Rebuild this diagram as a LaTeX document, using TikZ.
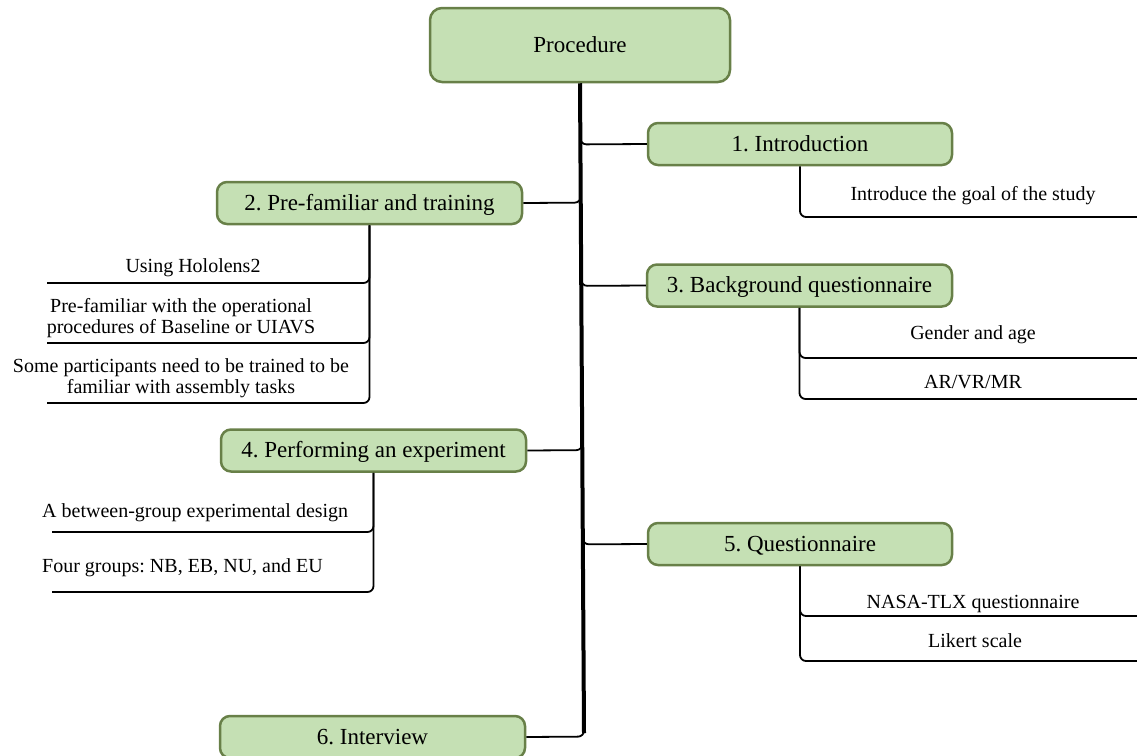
\documentclass[tikz,border=0pt]{standalone}
\usepackage{fontspec}
\setmainfont{Liberation Serif}
\usetikzlibrary{calc}
\definecolor{boxfill}{RGB}{197,224,180}
\definecolor{boxline}{RGB}{104,128,72}
\frenchspacing
\begin{document}
\begin{tikzpicture}[x=1pt,y=-1pt,
  box/.style={draw=boxline, fill=boxfill, line width=2.5pt, rounded corners=10pt,
    minimum width=304pt, minimum height=42pt, inner sep=0pt,
    font=\fontsize{23}{27}\selectfont, text height=17pt, text depth=3pt},
  conn/.style={line width=1.8pt, rounded corners=6pt},
  trunk/.style={line width=4pt},
  sub/.style={font=\fontsize{20}{21}\selectfont, inner sep=0pt}]
\useasboundingbox (0,0) rectangle (1137,755);

% main boxes
\node[box, minimum width=300pt, minimum height=74pt, rounded corners=12pt] (proc) at (580,45) {Procedure};
\node[box] (b1) at (800,144) {1. Introduction};
\node[box, minimum width=305pt] (b2) at (369.5,203) {2. Pre-familiar and training};
\node[box, minimum width=305pt] (b3) at (799.5,285.5) {3. Background questionnaire};
\node[box, minimum width=305pt] (b4) at (373.5,450.5) {4. Performing an experiment};
\node[box] (b5) at (800,544) {5. Questionnaire};
\node[box, minimum width=305pt] (b6) at (372.5,737) {6. Interview};

% trunk coordinates
\coordinate (ttop) at (proc.south);
\coordinate (tbot) at (584,733);

% junctions on trunk
\coordinate (j1) at ($(ttop)!(b1.west)!(tbot)$);
\coordinate (j2) at ($(ttop)!(b2.east)!(tbot)$);
\coordinate (j3) at ($(ttop)!(b3.west)!(tbot)$);
\coordinate (j4) at ($(ttop)!(b4.east)!(tbot)$);
\coordinate (j5) at ($(ttop)!(b5.west)!(tbot)$);
\coordinate (j6) at ($(ttop)!(b6.east)!(tbot)$);

% connectors from trunk to boxes
\draw[conn] ($(j1)+(0,-14)$) -- (j1) -- (b1.west);
\draw[conn] ($(j3)+(0,-14)$) -- (j3) -- (b3.west);
\draw[conn] ($(j5)+(0,-14)$) -- (j5) -- (b5.west);
\draw[conn] (b2.east) -- (j2) -- ($(j2)+(0,-14)$);
\draw[conn] (b4.east) -- (j4) -- ($(j4)+(0,-14)$);
\draw[conn] (b6.east) -- (j6) -- ($(j6)+(0,-14)$);

% trunk
\draw[trunk] (ttop) -- (tbot);

% sub-branch ends
\coordinate (e1) at (1137,217);
\coordinate (e3a) at (1137,358);
\coordinate (e3b) at (1137,399);
\coordinate (e5a) at (1137,616);
\coordinate (e5b) at (1137,661);
\coordinate (e2a) at (47,283);
\coordinate (e2b) at (47,343);
\coordinate (e2c) at (47,403);
\coordinate (e4a) at (52,532);
\coordinate (e4b) at (52,592);

\draw[conn] (b1.south) |- (e1);
\draw[conn] (b3.south) |- (e3a);
\draw[conn] (b3.south) |- (e3b);
\draw[conn] (b5.south) |- (e5a);
\draw[conn] (b5.south) |- (e5b);
\draw[conn] (b2.south) |- (e2a);
\draw[conn] (b2.south) |- (e2b);
\draw[conn] (b2.south) |- (e2c);
\draw[conn] (b4.south) |- (e4a);
\draw[conn] (b4.south) |- (e4b);

% sub texts
\node[sub, anchor=base] (s1) at (973,200) {Introduce the goal of the study};
\node[sub, anchor=base] (s3a) at (973,339) {Gender and age};
\node[sub, anchor=base] (s3b) at (973,388) {AR/VR/MR};
\node[sub, anchor=base] (s5a) at (973,608) {NASA-TLX questionnaire};
\node[sub, anchor=base] (s5b) at (975,647) {Likert scale};
\node[sub, anchor=base] (s2a) at (193,272) {Using Hololens2};
\node[sub, align=center] (s2b) at (181,318) {Pre-familiar with the operational\\procedures of Baseline or UIAVS};
\node[sub, align=center] (s2c) at (181,378) {Some participants need to be trained to be\\familiar with assembly tasks};
\node[sub, anchor=base west] (s4a) at (42,517) {A between-group experimental design};
\node[sub, anchor=base west] (s4b) at (42,572) {Four groups: NB, EB, NU, and EU};
\end{tikzpicture}
\end{document}
